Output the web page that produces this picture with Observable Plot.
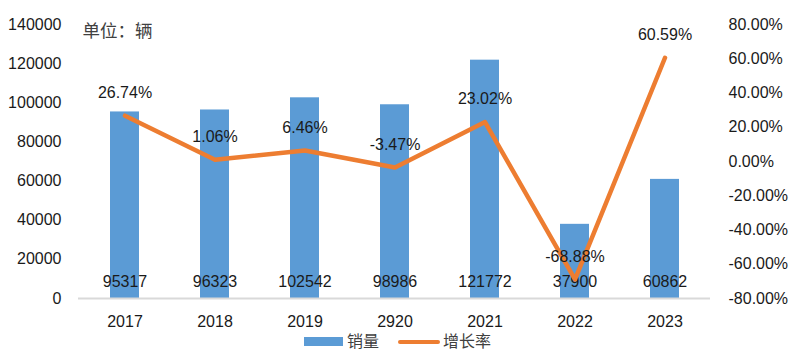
<!DOCTYPE html>
<html>
<head>
<meta charset="utf-8">
<script src="https://cdn.jsdelivr.net/npm/d3@7"></script>
<script src="https://cdn.jsdelivr.net/npm/@observablehq/plot@0.6"></script>
<style>
  body { margin: 0; background: #fff; font-family: "Liberation Sans", "Noto Sans CJK SC", sans-serif; }
  #wrap { position: relative; width: 805px; height: 352px; }
  .legend { position: absolute; top: 331px; left: 0; width: 805px; height: 21px; font-size: 16px; color: #404040; font-family: "Noto Sans CJK SC", sans-serif; }
  .legend span { position: absolute; }
</style>
</head>
<body>
<div id="wrap">
  <div id="chart"></div>
  <div class="legend">
    <span style="left:304px; top:6px; width:39px; height:9px; background:#5B9BD5;"></span>
    <span style="left:347px; top:-2px; line-height:22px;">销量</span>
    <span style="left:398px; top:9px; width:42px; height:4px; border-radius:2px; background:#ED7D31;"></span>
    <span style="left:443px; top:-2px; line-height:22px;">增长率</span>
  </div>
</div>
<script>
const years = ["2017", "2018", "2019", "2920", "2021", "2022", "2023"];
const sales = [95317, 96323, 102542, 98986, 121772, 37900, 60862];
const growth = [26.74, 1.06, 6.46, -3.47, 23.02, -68.88, 60.59];
const leftTicks = [0, 20000, 40000, 60000, 80000, 100000, 120000, 140000];
const rightTicks = [-80, -60, -40, -20, 0, 20, 40, 60, 80];

// map percent onto the left scale's domain (0..140000 ↔ -80%..80%)
const toY = p => (p + 80) / 160 * 140000;
const fromY = v => v / 140000 * 160 - 80;

const data = years.map((y, i) => ({year: y, sales: sales[i], growth: growth[i], gy: toY(growth[i])}));

const chart = Plot.plot({
  width: 805,
  height: 332,
  marginTop: 24,
  marginBottom: 34,
  marginLeft: 78,
  marginRight: 95,
  style: {fontFamily: "Liberation Sans, Noto Sans CJK SC, sans-serif", fontSize: "16px", color: "#1a1a1a", background: "#fff"},
  x: {domain: years, paddingInner: 0.68, paddingOuter: 0.34, label: null},
  y: {domain: [0, 140000], label: null},
  marks: [
    Plot.axisY({ticks: leftTicks, tickSize: 0, tickPadding: 17, label: null, tickFormat: d => String(d), fontSize: 16}),
    Plot.axisY({anchor: "right", ticks: rightTicks.map(toY), tickSize: 0, tickPadding: 18, label: null,
      tickFormat: v => fromY(v).toFixed(2) + "%", fontSize: 16}),
    Plot.axisX({tickSize: 0, tickPadding: 17, label: null, fontSize: 16}),
    Plot.barY(data, {x: "year", y: "sales", fill: "#5B9BD5"}),
    Plot.ruleY([0], {stroke: "#D9D9D9", strokeWidth: 2}),
    Plot.text(data, {x: "year", y: 0, text: d => String(d.sales), dy: -17, fontSize: 16, fill: "#1a1a1a"}),
    Plot.line(data, {x: "year", y: "gy", stroke: "#ED7D31", strokeWidth: 4.5, strokeLinecap: "round", strokeLinejoin: "round"}),
    Plot.text(data, {x: "year", y: "gy", text: d => d.growth.toFixed(2) + "%", dy: -23, fontSize: 16, fill: "#1a1a1a"}),
    Plot.text(["单位：辆"], {frameAnchor: "top-left", text: d => d, dx: 4, dy: 0, fontSize: 17.5, fill: "#404040", fontFamily: "Noto Sans CJK SC, sans-serif"})
  ]
});
document.getElementById("chart").appendChild(chart);
</script>
</body>
</html>
